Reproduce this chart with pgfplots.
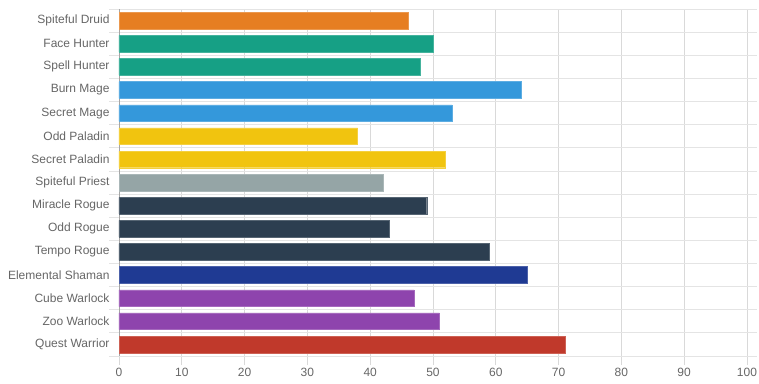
\documentclass[border=0pt]{standalone}
\usepackage{pgfplots}
\pgfplotsset{compat=1.18}
\usepackage{fontspec}
\setmainfont{Liberation Sans}
\definecolor{cOrange}{HTML}{E67E22}
\definecolor{cTeal}{HTML}{16A085}
\definecolor{cBlue}{HTML}{3498DB}
\definecolor{cYellow}{HTML}{F1C40F}
\definecolor{cGray}{HTML}{95A5A6}
\definecolor{cDark}{HTML}{2C3E50}
\definecolor{cNavy}{HTML}{1F3A93}
\definecolor{cPurple}{HTML}{8E44AD}
\definecolor{cRed}{HTML}{C0392B}
\definecolor{labelgray}{HTML}{666666}
\definecolor{gridgray}{HTML}{E4E4E4}
\definecolor{vgrid}{HTML}{D9D9D9}
\begin{document}
\begin{tikzpicture}
\begin{axis}[
  name=ax, at={(0,0)}, anchor=south west,
  scale only axis, width=638pt, height=347pt,
  xmin=0, xmax=101.6, ymin=-0.5, ymax=14.5,
  xtick={0,10,...,100},
  ytick={0,...,14},
  yticklabels={Quest Warrior,Zoo Warlock,Cube Warlock,Elemental Shaman,Tempo Rogue,Odd Rogue,Miracle Rogue,Spiteful Priest,Secret Paladin,Odd Paladin,Secret Mage,Burn Mage,Spell Hunter,Face Hunter,Spiteful Druid},
  minor ytick={-0.5,0.5,...,14.5},
  xmajorgrids, yminorgrids,
  major grid style={vgrid, line width=0.8pt},
  minor grid style={gridgray, line width=0.8pt},
  axis x line*=bottom, axis y line*=left,
  x axis line style={gridgray, line width=0.8pt, -},
  y axis line style={black!35, line width=0.8pt, -},
  tick align=outside, tick pos=left,
  major tick length=9pt, minor tick length=10pt,
  major x tick style={vgrid, line width=0.8pt},
  major y tick style={draw=none},
  minor y tick style={gridgray, line width=0.8pt},
  ticklabel style={font=\fontsize{12}{14}\selectfont, text=labelgray},
  yticklabel style={xshift=3pt},
  /pgf/number format/assume math mode=true,
  xbar, bar width=16.7pt, bar shift=0pt,
  clip=false,
]
\addplot[fill=cOrange, draw=cOrange!80!white] coordinates {(46,14)};
\addplot[fill=cTeal, draw=cTeal!80!white] coordinates {(50,13) (48,12)};
\addplot[fill=cBlue, draw=cBlue!80!white] coordinates {(64,11) (53,10)};
\addplot[fill=cYellow, draw=cYellow!80!white] coordinates {(38,9) (52,8)};
\addplot[fill=cGray, draw=cGray!80!white] coordinates {(42,7)};
\addplot[fill=cDark, draw=cDark!80!white] coordinates {(49,6) (43,5) (59,4)};
\addplot[fill=cNavy, draw=cNavy!80!white] coordinates {(65,3)};
\addplot[fill=cPurple, draw=cPurple!80!white] coordinates {(47,2) (51,1)};
\addplot[fill=cRed, draw=cRed!80!white] coordinates {(71,0)};
\end{axis}
\pgfresetboundingbox
\path (ax.south west) ++(-119pt,-27pt) rectangle ++(759pt,383pt);
\end{tikzpicture}
\end{document}
